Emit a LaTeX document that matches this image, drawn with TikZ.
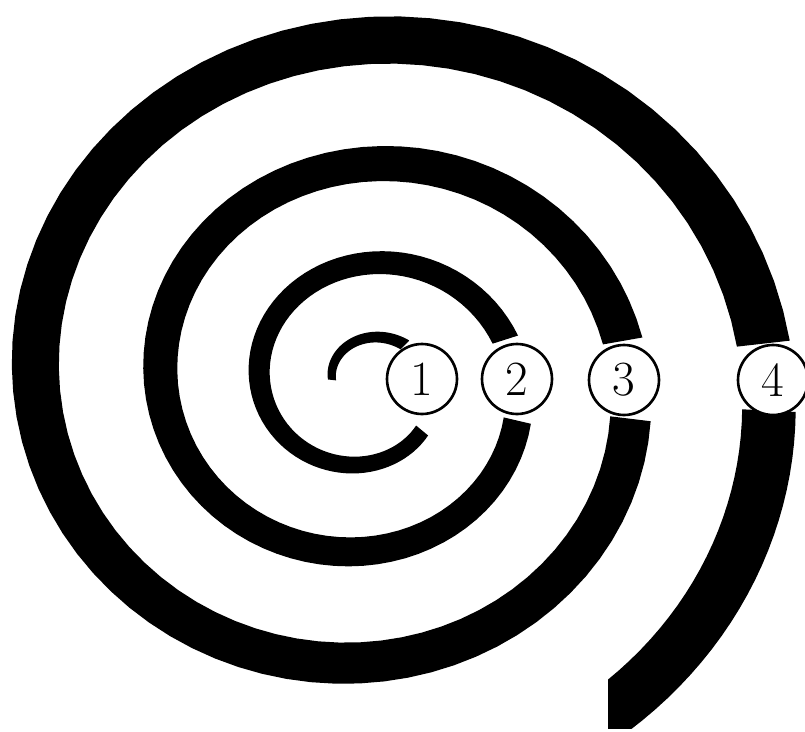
\documentclass[tikz,border=0pt]{standalone}
\usepackage{fontspec}
\begin{document}
\begin{tikzpicture}[x=0.02cm, y=-0.02cm,
  declare function={spr(\t)=33+60*\t+13*\t*\t; bw(\t)=8+13*\t;},
  num/.style={circle, draw, line width=1.5pt, fill=white, minimum size=1.4cm, inner sep=0pt, font=\fontsize{28}{30}\selectfont}]
\useasboundingbox (0,0) rectangle (805,731);
\foreach \ta/\tb in {0.02/0.37, 0.615/1.448, 1.54/2.472, 2.522/3.483}
  \fill plot[domain=\ta:\tb, samples=80, variable=\t] ({366-(spr(\t)+bw(\t)/2)*cos(360*\t)}, {384-0.94*(spr(\t)+bw(\t)/2)*sin(360*\t)})
    -- plot[domain=\tb:\ta, samples=80, variable=\t] ({366-(spr(\t)-bw(\t)/2)*cos(360*\t)}, {384-0.94*(spr(\t)-bw(\t)/2)*sin(360*\t)}) -- cycle;
\begin{scope}
  \clip (608,0) rectangle (805,728);
  \fill plot[domain=3.511:3.75, samples=40, variable=\t] ({366-(spr(\t)+bw(\t)/2)*cos(360*\t)}, {384-0.94*(spr(\t)+bw(\t)/2)*sin(360*\t)})
    -- plot[domain=3.75:3.511, samples=40, variable=\t] ({366-(spr(\t)-bw(\t)/2)*cos(360*\t)}, {384-0.94*(spr(\t)-bw(\t)/2)*sin(360*\t)}) -- cycle;
\end{scope}
\node[num] (n1) at (422,379) {1};
\node[num] (n2) at (517,379) {2};
\node[num] (n3) at (624,380) {3};
\node[num] (n4) at (773,380) {4};
\end{tikzpicture}
\end{document}
